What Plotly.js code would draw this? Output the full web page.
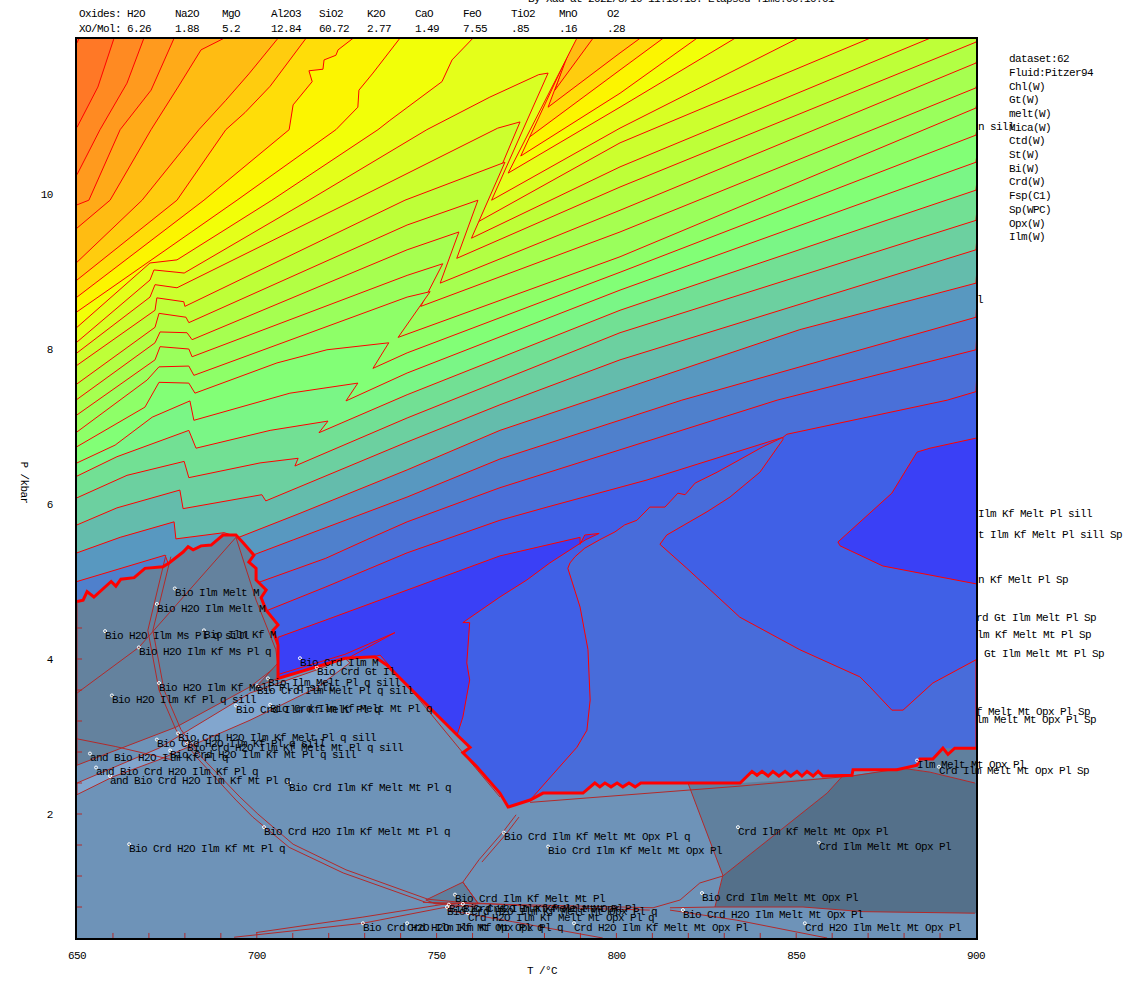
<!DOCTYPE html>
<html><head><meta charset="utf-8">
<script src="https://cdn.plot.ly/plotly-3.0.1.min.js"></script>
<style>html,body{margin:0;padding:0;background:#fff}
#chart text{letter-spacing:-0.6px}</style></head>
<body><div id="chart"></div>
<script>
// ---- isolines, top-left to bottom-right: [T degC], [P kbar], colour just below the line
const iso01T=[650,650.6], iso01P=[11.95,12.01];
const iso02T=[650,655.8,660.3], iso02P=[10.86,11.38,12.01];
const iso03T=[650,656.4,663.9,668.6], iso03P=[10.25,10.83,11.43,12.01];
const iso04T=[650,653.3,662,670.6,677], iso04P=[9.86,9.92,10.83,11.34,12.01];
const iso05T=[650,659.2,670.6,678.1,684.5,690.9], iso05P=[9.56,9.92,10.83,11.38,11.86,12.01];
const iso06T=[650,668.1,683.9,691.4,697.8,705.9,788.5,782.9,793.5], iso06P=[9.12,9.92,10.83,11.21,11.55,12.01,12.1,11.34,12.01];
const iso07T=[650,677.8,691.4,696.7,703.7,713.7,789,781,801,806.6], iso07P=[8.89,9.92,10.83,11.05,11.39,12.01,12.1,11.12,11.82,12.01];
const iso08T=[650,685.3,709,710.1,715.4,714.5,718.4,718.7,722,722.6,726.8,789.3,775.4,801,813], iso08P=[8.67,9.92,10.83,11.15,11.45,11.59,11.61,11.73,11.79,11.86,12.01,12.1,10.72,11.6,12.01];
const iso09T=[650,694.5,722,728.1,728.4,732.3,739.8,789.6,773.4,801,822.4], iso09P=[8.48,9.92,10.83,11.12,11.34,11.56,12.01,12.1,10.49,11.3,12.01];
const iso10T=[650,670.3,677.8,704.2,733.7,737,751.5,754.3,760.1,790,769.9,801,833], iso10P=[8.28,9.11,9.15,9.92,10.83,10.95,11.45,11.73,12.01,12.1,10.27,11.12,12.01];
const iso11T=[650,670.3,671.4,677.8,679.8,714.5,747.3,764.8,778.4,781,765.3,801,850.5], iso11P=[8.09,8.89,9.02,8.99,8.98,9.92,10.83,11.25,11.54,11.56,9.92,10.85,12.01];
const iso12T=[650,670.3,671.7,677.8,727,767,773.2,761.5,801,870.5], iso12P=[7.95,8.67,8.83,8.79,9.92,10.85,10.93,9.64,10.66,12.01];
const iso13T=[650,671.7,672.2,679.7,680,741.2,769,759.7,801,887.2], iso13P=[7.79,8.5,8.66,8.61,8.55,9.92,10.41,9.43,10.35,12.01];
const iso14T=[650,671.7,672.8,680.3,681.1,741.8,761.5,755.6,801,900], iso14P=[7.55,8.28,8.46,8.41,8.34,9.6,9.92,9.17,10.09,11.96];
const iso15T=[650,671.7,673.1,680.6,682,741.8,756.2,751,801,900], iso15P=[7.35,8.08,8.22,8.21,8.12,9.28,9.51,8.85,9.79,11.69];
const iso16T=[650,671.7,673.1,681.1,682,741.8,751.7,745.6,801,900], iso16P=[7.15,7.86,8.03,8,7.9,8.95,9.1,8.55,9.51,11.37];
const iso17T=[650,669.5,672.8,681.1,682.5,741.8,748.2,739.3,801,900], iso17P=[6.93,7.6,7.77,7.78,7.66,8.67,8.74,8.15,9.19,11.11];
const iso18T=[650,668.9,672.8,681.1,682.8,705.6,719.5,736.7,732.3,741.8,801,900], iso18P=[6.74,7.25,7.57,7.56,7.43,7.82,7.99,8.08,7.75,7.95,8.99,10.76];
const iso19T=[650,660.6,670.9,681.4,682.5,709.2,728.1,724.8,741.8,801,900], iso19P=[6.53,6.76,7.12,7.33,7.08,7.43,7.56,7.33,7.69,8.76,10.41];
const iso20T=[650,661.1,681.1,683.1,703.7,719.8,717.3,741.8,801,900], iso20P=[6.36,6.61,6.95,6.72,6.95,7.07,6.92,7.41,8.5,10.05];
const iso21T=[650,663.9,679.8,681.1,700.9,711.5,710.6,741.8,801,900], iso21P=[6.08,6.37,6.55,6.34,6.53,6.59,6.49,7.11,8.21,9.66];
const iso22T=[650,661.1,678.6,679.5,701.4,702.5,741.8,767.6,801,900], iso22P=[5.73,5.95,6.18,5.94,6.12,6.04,6.8,7.28,7.86,9.28];
const iso23T=[650,662,677,677.5,690.9,695,712,741.8,767.6,792.7,851,900], iso23P=[5.37,5.57,5.77,5.55,5.63,5.57,5.88,6.44,6.95,7.34,8.25,8.85];
const iso24T=[650,674.5,675.3,684.2,698.9,710.3,741.8,767.6,818.2,900], iso24P=[5,5.34,5.24,4.89,5.34,5.54,6.09,6.58,7.34,8.41];
const iso25T=[650,701.2,719.2,730.6,741.8,767.6,844.7,900], iso25P=[4.12,5,5.3,5.54,5.77,6.21,7.34,7.99];
const iso26T=[650,703.1,719.2,741.8,767.6,780.7,808.5,846.3,847.4,892,900], iso26P=[3.73,4.63,4.93,5.37,5.79,5.96,6.31,6.86,6.9,7.34,7.45];
const isoColours=['#FF7826','#FF8A22','#FF9A1E','#FFAA18','#FFBC12','#FFCC0E','#FFDD08','#FCF500','#F2FF08','#E4FF1A','#D8FF24','#CCFF2E','#BEFF38','#B2FF44','#A6FF50','#9AFF5C','#8EFF68','#82FF76','#7AF686','#72E094','#6CD0A0','#64BCAC','#5898C0','#4F80CC','#4A70D8','#4060E6'];
const isoLines=[[iso01T,iso01P],[iso02T,iso02P],[iso03T,iso03P],[iso04T,iso04P],[iso05T,iso05P],[iso06T,iso06P],[iso07T,iso07P],[iso08T,iso08P],[iso09T,iso09P],[iso10T,iso10P],[iso11T,iso11P],[iso12T,iso12P],[iso13T,iso13P],[iso14T,iso14P],[iso15T,iso15P],[iso16T,iso16P],[iso17T,iso17P],[iso18T,iso18P],[iso19T,iso19P],[iso20T,iso20P],[iso21T,iso21P],[iso22T,iso22P],[iso23T,iso23P],[iso24T,iso24P],[iso25T,iso25P],[iso26T,iso26P]];

// ---- blue fields
const midBlueT=[900,888,879.7,876.6,870.5,867.7,851,834.3,819.6,812.1,814,825.2,831.6,839.9,846.3,846.3,840.8,828,821.9,819.1,817.1,813.5,809.3,805.7,802.3,799.6,795.4,791.2,788.5,787.1,786.5,789.9,792.1,792.7,791.8,789,776,776,900];
const midBlueP=[3.99,3.69,3.34,3.34,3.64,3.77,4.12,4.54,5.17,5.48,5.6,5.9,6.09,6.41,6.83,6.86,6.74,6.41,6.27,6.12,6.14,5.96,5.96,5.79,5.73,5.64,5.54,5.43,5.32,5.24,5.17,4.67,4.12,3.47,3.08,2.86,2.18,1.98,1.98];
const deepRightT=[905,900,887.2,883.6,876.6,861.6,862.2,874.1,900,905];
const deepRightP=[6.85,6.85,6.72,6.67,6.14,5.51,5.46,5.2,4.97,4.97];
const deepLeftT=[705.9,719,767.6,789.9,789.9,791.2,795.2,791.5,781.5,775.1,767.6,757.3,759.2,758.4,759.2,757.3,755.7,745.4,734.3,705.9];
const deepLeftP=[4.28,4.5,5.33,5.57,5.48,5.6,5.62,5.54,5.24,5.02,4.8,4.47,4.47,3.95,3.73,3.25,3.02,3.47,4.05,3.73];
const lensT=[705.9,724.5,738.4,724.5], lensP=[3.8,4.06,4.34,3.99];

// ---- thick red limit of the melt field
const borderUpperT=[650,651.7,652.8,654.7,659.5,660.8,662.2,665.9,668.9,673.9,675.6,679.5,680.9,682.3,684.5,687.3,690.6,694.2,696.2,699.2,697.8,699.8,699.8,702.6,701.2,702.6,705.9,704.5,705.9,705.9];
const borderUpperP=[4.74,4.76,4.87,4.8,5,4.94,5.03,5.05,5.17,5.19,5.24,5.38,5.45,5.41,5.46,5.47,5.6,5.6,5.5,5.34,5.25,5.17,5.02,4.89,4.79,4.63,4.44,4.37,4.18,3.75];
const borderLowerT=[724.5,732.8,736.2,755.7,759.3,757.3,761.2,767.6,769.9,776,779.6,790.7,794,795.4,796.8,798.5,800.2,801.8,803.5,805.2,806.8,809.3,834.4,837.7,839.1,840.5,842.2,843.5,845.2,846.9,848.5,850.2,851.6,853,854.7,856.1,857.4,865.5,865.8,878,883.6,884.4,888,890.8,892.2,894.1,900];
const borderLowerP=[4.01,4.03,3.92,3.02,2.86,2.79,2.61,2.27,2.09,2.18,2.27,2.27,2.4,2.35,2.4,2.35,2.4,2.35,2.4,2.35,2.4,2.4,2.4,2.55,2.5,2.55,2.49,2.55,2.49,2.55,2.49,2.55,2.49,2.55,2.49,2.55,2.49,2.5,2.57,2.57,2.63,2.71,2.71,2.85,2.77,2.85,2.85];

// ---- grey-blue fields
const fieldUpperLowT=[705.9,698.1,677.5,650], fieldUpperLowP=[3.92,3.64,3.12,2.63];
const stripT=[650,672.8,698.1,716.7,724.5,725.9,716.7,698.1,672.8,660,650];
const stripP=[2.4,2.85,3.56,3.86,4.01,3.95,3.63,3.21,2.7,2.48,2.25];
const wedgeT=[699.8,705.9,705.9], wedgeP=[3.64,3.95,3.75];
const fieldMidT=[819.9,834.4,862.7,858.6,829.6], fieldMidP=[2.4,2.4,2.48,2.27,1.2];
const fieldDarkT=[862.7,879.6,887.2,900,900,868.6,851.9,827.4,829.6,858.6];
const fieldDarkP=[2.48,2.59,2.54,2.4,0.72,0.74,0.8,0.8,1.2,2.27];
const fieldCornerT=[879.6,883.6,884.4,888,890.8,900,900,887.2], fieldCornerP=[2.59,2.63,2.71,2.71,2.85,2.85,2.4,2.54];
const fieldSmallT=[747,757.3,761.5,749.8], fieldSmallP=[0.89,1.12,0.85,0.84];

// ---- thin boundaries
const thinLines=[
 [[694.2,667.2,650],[5.57,4.15,3.56]],
 [[694.2,699.8,705.3,705.9],[5.57,4.76,4.12,3.92]],
 [[674.7,669.7,672.8,677.5,683.1,694.2,698.9,709,724,747,761],[5.34,4.37,3.6,3.09,2.74,2.18,1.96,1.57,1.24,0.86,0.8]],
 [[676.1,671.1,674.2,678.9,684.5,695.3,700.3,710.1,724.8,747.6,761.5],[5.32,4.37,3.6,3.09,2.74,2.22,2,1.61,1.28,0.9,0.84]],
 [[650,660.8,676.4],[2.97,2.87,2.7]],
 [[693.7,729.5,751.7,761],[0.41,0.59,0.79,0.83]],
 [[699.8,729.5,752.6,762],[0.47,0.67,0.84,0.85]],
 [[746.2,773.2,810.2],[0.86,0.83,0.79]],
 [[752.9,771.2,796.2],[0.76,0.61,0.4]],
 [[761.5,784.3,809.3],[0.85,0.79,0.76]],
 [[810.2,817.7,823.2,829.6],[0.79,0.89,1.11,1.2]],
 [[819.9,829.6,827.4],[2.4,1.21,0.8]],
 [[862.7,858.6,829.6],[2.48,2.27,1.2]],
 [[879.6,887.2,899.7],[2.59,2.54,2.4]],
 [[814.9,827.4,851.9,868.6,899.7],[0.79,0.8,0.8,0.74,0.72]],
 [[814.9,833.5,858.6],[0.76,0.63,0.4]],
 [[772.1,768.5,761.8,757.3,761.5],[1.99,1.77,1.41,1.12,0.85]],
 [[772.9,769.3,762.6],[1.96,1.74,1.38]],
 [[742.6,757.3,767.6],[3.62,2.79,2.22]],
 [[776,834.4,865.5,879.6],[2.15,2.36,2.49,2.59]]
];

// ---- assemblage labels
const labels=["Bio Ilm Melt M","Bio H2O Ilm Melt M","Bio H2O Ilm Ms Pl q sill","Bio Ilm Kf M","Bio H2O Ilm Kf Ms Pl q","Bio H2O Ilm Kf Melt Pl q sill","Bio H2O Ilm Kf Pl q sill","Bio Ilm Melt Pl q sill","Bio Crd Ilm Melt Pl q sill","Bio Crd Gt Il","Bio Crd Ilm M","Bio Crd Ilm Kf Melt Pl q","Bio Crd Ilm Kf Melt Mt Pl q","Bio Crd H2O Ilm Kf Melt Pl q sill","Bio Crd H2O Ilm Kf Pl q sill","Bio Crd H2O Ilm Kf Melt Mt Pl q sill","Bio Crd H2O Ilm Kf Mt Pl q sill","and Bio H2O Ilm Kf Pl q","and Bio Crd H2O Ilm Kf Pl q","and Bio Crd H2O Ilm Kf Mt Pl q","Bio Crd Ilm Kf Melt Mt Pl q","Bio Crd H2O Ilm Kf Melt Mt Pl q","Bio Crd H2O Ilm Kf Mt Pl q","Bio Crd Ilm Kf Melt Mt Opx Pl q","Bio Crd Ilm Kf Melt Mt Opx Pl","Crd Ilm Kf Melt Mt Opx Pl","Crd Ilm Melt Mt Opx Pl","Bio Crd Ilm Melt Mt Opx Pl","Bio Crd H2O Ilm Melt Mt Opx Pl","Crd H2O Ilm Melt Mt Opx Pl","Crd H2O Ilm Kf Melt Mt Opx Pl","Bio Crd Ilm Kf Melt Mt Pl","Bio Crd H2O Ilm Kf Melt Mt Pl","Bio Crd H2O Ilm Kf Melt Mt Opx Pl q","Bio Crd Ilm Kf Melt Mt Opx Pl","Crd H2O Ilm Kf Melt Mt Opx Pl q","Bio Crd H2O Ilm Kf Mt Opx Pl q","Crd H2O Ilm Kf Mt Opx Pl q","Ilm Melt Mt Opx Pl","Crd Ilm Melt Mt Opx Pl Sp"];
const labelT=[677.2,672.2,657.8,685.3,667.2,672.8,659.7,703.1,700.1,716.7,712,694.2,703.7,678.1,672.2,680.6,675.9,653.6,655.3,659.2,709,702,664.5,768.7,781,833.8,856.3,823.8,818.5,852.4,788.2,755.1,753.4,752.9,757.3,758.7,729.5,741.8,883.6,889.7];
const labelP=[4.85,4.65,4.3,4.31,4.09,3.63,3.47,3.69,3.59,3.83,3.95,3.34,3.35,2.98,2.9,2.85,2.76,2.72,2.54,2.43,2.34,1.77,1.55,1.7,1.52,1.77,1.57,0.92,0.7,0.53,0.53,0.9,0.77,0.74,0.78,0.66,0.53,0.53,2.63,2.55];
// ends of labels that show past the right edge of the plot
const edgeLabels=["n sill","l","Ilm Kf Melt Pl sill","t Ilm Kf Melt Pl sill Sp","n Kf Melt Pl Sp","rd Gt Ilm Melt Pl Sp","lm Kf Melt Mt Pl Sp","Gt Ilm Melt Mt Pl Sp","f Melt Mt Opx Pl Sp","lm Melt Mt Opx Pl Sp"];
const edgeT=[900.6,900.3,900.6,900.6,900.6,900,900.3,902.2,900,900];
const edgeP=[10.86,8.63,5.87,5.6,5.02,4.53,4.31,4.06,3.32,3.21];

// ---- header and model list
const oxides=["Oxides:","H2O","Na2O","MgO","Al2O3","SiO2","K2O","CaO","FeO","TiO2","MnO","O2"];
const moles=["XO/Mol:","6.26","1.88","5.2","12.84","60.72","2.77","1.49","7.55",".85",".16",".28"];
const headerT=[650.3,663.6,677,690,703.7,717,730.4,743.7,757,770.4,783.8,797.1];
const models=["dataset:62","Fluid:Pitzer94","Chl(W)","Gt(W)","melt(W)","Mica(W)","Ctd(W)","St(W)","Bi(W)","Crd(W)","Fsp(C1)","Sp(WPC)","Opx(W)","Ilm(W)"];
const modelP=[11.74,11.56,11.38,11.21,11.03,10.85,10.68,10.5,10.32,10.15,9.97,9.79,9.61,9.45];
const stamp="By Xad at 2022/8/10 11:13:18. Elapsed Time:00:10:01";

const xTickVals=[660,670,680,690,700,710,720,730,740,750,760,770,780,790,800,810,820,830,840,850,860,870,880,890];
const yTickVals=[0.8,1.2,1.6,2,2.4,2.8,3.2,3.6,4,4.4];

const T_RANGE=[650,900], P_RANGE=[0.4,12];
const FONT="'Liberation Mono', monospace", RED='#FF0000', THIN='#B22A2A';
const traces=[];
isoLines.forEach((l,i)=>traces.push({x:[645,...l[0],905,905,645],y:[l[1][0],...l[1],12.5,0,0],mode:'lines',fill:'toself',fillcolor:isoColours[i],line:{color:RED,width:1,simplify:false}}));
function poly(x,y,fillcolor,line){traces.push({x:[...x,x[0]],y:[...y,y[0]],mode:'lines',fill:'toself',fillcolor,line:line||{width:0}});}
const redLine={color:RED,width:1,simplify:false}, thinLine={color:THIN,width:1,simplify:false};
poly(midBlueT,midBlueP,'#486CDA',redLine);
poly(deepRightT,deepRightP,'#3A40F6',redLine);
poly(deepLeftT,deepLeftP,'#3A40F6',redLine);
traces.push({x:lensT,y:lensP,mode:'lines',line:redLine});
const borderT=[...borderUpperT,...borderLowerT], borderP=[...borderUpperP,...borderLowerP];
poly([...borderT,905,905,645,645],[...borderP,2.85,0,0,4.74],'#6E93B8');
poly([...borderUpperT,...fieldUpperLowT],[...borderUpperP,...fieldUpperLowP],'#64829E',thinLine);
poly(stripT,stripP,'#82A6CE',thinLine);
poly(wedgeT,wedgeP,'#5A7490',thinLine);
poly(fieldMidT,fieldMidP,'#60809E');
poly(fieldDarkT,fieldDarkP,'#54708A');
poly(fieldCornerT,fieldCornerP,'#60809E');
poly(fieldSmallT,fieldSmallP,'#60809E',thinLine);
thinLines.forEach(l=>traces.push({x:l[0],y:l[1],mode:'lines',line:thinLine}));
const tx=[],ty=[];
xTickVals.forEach(t=>{tx.push(t,t,null);ty.push(0.4,0.465,null);});
yTickVals.forEach(p=>{tx.push(650,651.4,null);ty.push(p,p,null);});
traces.push({x:tx,y:ty,mode:'lines',line:{color:THIN,width:1}});
traces.push({x:borderT,y:borderP,mode:'lines',line:{color:RED,width:3,simplify:false}});
traces.push({x:labelT,y:labelP.map(p=>p+0.06),mode:'markers',marker:{symbol:'circle-open',size:3,color:'#FFFFFF',line:{color:'#FFFFFF',width:1}}});

const ann=[];
// placed through the axis fractions, since annotations at values off an axis range are not drawn
function txt(text,T,P,extra){ann.push(Object.assign({text,x:(T-T_RANGE[0])/(T_RANGE[1]-T_RANGE[0]),y:(P-P_RANGE[0])/(P_RANGE[1]-P_RANGE[0]),xref:'paper',yref:'paper',xanchor:'left',yanchor:'middle',showarrow:false,align:'left',borderpad:0,font:{family:FONT,size:11,color:'#000'}},extra||{}));}
labels.forEach((s,i)=>txt(s,labelT[i]-0.3,labelP[i]));
edgeLabels.forEach((s,i)=>txt(s,edgeT[i]-0.3,edgeP[i]));
oxides.forEach((s,i)=>txt(s,headerT[i],12.32));
moles.forEach((s,i)=>txt(s,headerT[i],12.13));
models.forEach((s,i)=>txt(s,908.9,modelP[i]));
txt(stamp,775.1,12.52);
txt('P /kbar',635.3,6.25,{textangle:90,xanchor:'center'});
txt('T /°C',779.6,-0.02,{xanchor:'center'});

const layout={
  width:1129,height:987,autosize:false,showlegend:false,hovermode:false,
  margin:{l:77,r:153,t:39,b:49,pad:0},
  paper_bgcolor:'#FFFFFF',plot_bgcolor:'#FF6A28',
  font:{family:FONT,size:11,color:'#000'},
  xaxis:{range:T_RANGE,tickmode:'array',tickvals:[650,700,750,800,850,900],ticks:'',showgrid:false,zeroline:false,showline:true,mirror:true,linecolor:'#000',linewidth:2,ticklabelstandoff:6,tickfont:{family:FONT,size:11,color:'#000'}},
  yaxis:{range:P_RANGE,tickmode:'array',tickvals:[2,4,6,8,10],ticks:'',showgrid:false,zeroline:false,showline:true,mirror:true,linecolor:'#000',linewidth:2,ticklabelstandoff:20,tickfont:{family:FONT,size:11,color:'#000'}},
  annotations:ann
};
Plotly.newPlot('chart',traces,layout,{displayModeBar:false,staticPlot:true});
</script></body></html>
